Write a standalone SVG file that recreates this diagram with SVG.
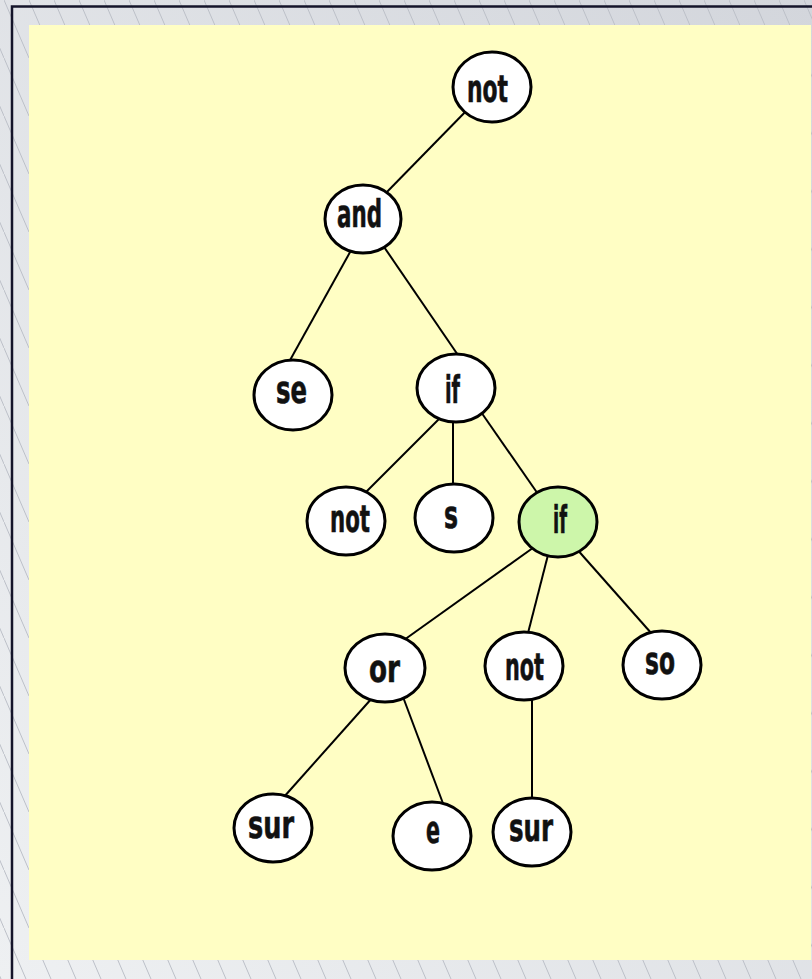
<svg xmlns="http://www.w3.org/2000/svg" width="812" height="979" viewBox="0 0 812 979">
  <defs>
    <linearGradient id="bgGrad" x1="1" y1="0" x2="0" y2="1">
      <stop offset="0" stop-color="#d3d6dc"/>
      <stop offset="1" stop-color="#eef0f2"/>
    </linearGradient>
    <pattern id="hatch" patternUnits="userSpaceOnUse" x="4" y="0" width="25" height="58">
      <line x1="0" y1="0" x2="25" y2="58" stroke="#bcc0c8" stroke-width="1"/>
    </pattern>
  </defs>
  <style>
    .edge { stroke: #000; stroke-width: 2; fill: none; }
    .node ellipse { fill: #fff; stroke: #000; stroke-width: 3; }
    .node.active ellipse { fill: #cdf6aa; }
    .node text { font-family: "DejaVu Sans Condensed", "DejaVu Sans", "Liberation Sans", sans-serif; font-weight: bold; font-size: 37px; fill: #111; stroke: #111; stroke-width: 0.6; text-anchor: middle; }
  </style>

  <!-- backdrop -->
  <rect x="0" y="0" width="812" height="979" fill="url(#bgGrad)"/>
  <rect x="0" y="0" width="812" height="979" fill="url(#hatch)"/>
  <rect x="12" y="6.5" width="820" height="990" fill="none" stroke="#14142a" stroke-width="2.5"/>

  <!-- panel -->
  <rect x="29" y="25" width="782" height="935" fill="#fffec4"/>

  <!-- connectors (drawn beneath the nodes, ends tucked under the outlines) -->
  <g id="edges">
    <line class="edge" x1="472" y1="105" x2="383" y2="196"/>
    <line class="edge" x1="354" y1="245" x2="289" y2="362"/>
    <line class="edge" x1="382" y1="244" x2="460" y2="358"/>
    <line class="edge" x1="441" y1="417" x2="365" y2="493"/>
    <line class="edge" x1="453" y1="418" x2="453" y2="488"/>
    <line class="edge" x1="481" y1="412" x2="538" y2="494"/>
    <line class="edge" x1="537" y1="545" x2="404" y2="640"/>
    <line class="edge" x1="549" y1="551" x2="527" y2="637"/>
    <line class="edge" x1="575" y1="547" x2="652" y2="634"/>
    <line class="edge" x1="373" y1="697" x2="283" y2="798"/>
    <line class="edge" x1="403" y1="697" x2="444" y2="806"/>
    <line class="edge" x1="532" y1="696" x2="532" y2="802"/>
  </g>

  <!-- nodes -->
  <g id="n-not-root" class="node">
    <ellipse cx="492" cy="87" rx="39" ry="35"/>
    <text x="487.5" y="102" textLength="41" lengthAdjust="spacingAndGlyphs">not</text>
  </g>
  <g id="n-and" class="node">
    <ellipse cx="363" cy="219" rx="38" ry="34"/>
    <text x="359.5" y="227" textLength="45" lengthAdjust="spacingAndGlyphs">and</text>
  </g>
  <g id="n-se" class="node">
    <ellipse cx="293" cy="395" rx="39" ry="35"/>
    <text x="291.5" y="403" textLength="31" lengthAdjust="spacingAndGlyphs">se</text>
  </g>
  <g id="n-if-1" class="node">
    <ellipse cx="456" cy="388" rx="39" ry="34"/>
    <text x="452.5" y="403" textLength="15" lengthAdjust="spacingAndGlyphs">if</text>
  </g>
  <g id="n-not-1" class="node">
    <ellipse cx="346" cy="521" rx="39" ry="34"/>
    <text x="350" y="532" textLength="40" lengthAdjust="spacingAndGlyphs">not</text>
  </g>
  <g id="n-s" class="node">
    <ellipse cx="454" cy="518" rx="39" ry="34"/>
    <text x="451" y="528" textLength="14" lengthAdjust="spacingAndGlyphs">s</text>
  </g>
  <g id="n-if-2" class="node active">
    <ellipse cx="558" cy="522" rx="39" ry="35"/>
    <text x="560" y="533" textLength="14" lengthAdjust="spacingAndGlyphs">if</text>
  </g>
  <g id="n-or" class="node">
    <ellipse cx="385" cy="668" rx="40" ry="34"/>
    <text x="384.5" y="682" textLength="31" lengthAdjust="spacingAndGlyphs">or</text>
  </g>
  <g id="n-not-2" class="node">
    <ellipse cx="524" cy="666" rx="39" ry="34"/>
    <text x="524.5" y="680" textLength="39" lengthAdjust="spacingAndGlyphs">not</text>
  </g>
  <g id="n-so" class="node">
    <ellipse cx="662" cy="665" rx="39" ry="34"/>
    <text x="660" y="674" textLength="30" lengthAdjust="spacingAndGlyphs">so</text>
  </g>
  <g id="n-sur-1" class="node">
    <ellipse cx="273" cy="828" rx="39" ry="34"/>
    <text x="271" y="838" textLength="46" lengthAdjust="spacingAndGlyphs">sur</text>
  </g>
  <g id="n-e" class="node">
    <ellipse cx="432" cy="836" rx="39" ry="34"/>
    <text x="433" y="843" textLength="14" lengthAdjust="spacingAndGlyphs">e</text>
  </g>
  <g id="n-sur-2" class="node">
    <ellipse cx="532" cy="832" rx="39" ry="34"/>
    <text x="531" y="841" textLength="44" lengthAdjust="spacingAndGlyphs">sur</text>
  </g>
</svg>
